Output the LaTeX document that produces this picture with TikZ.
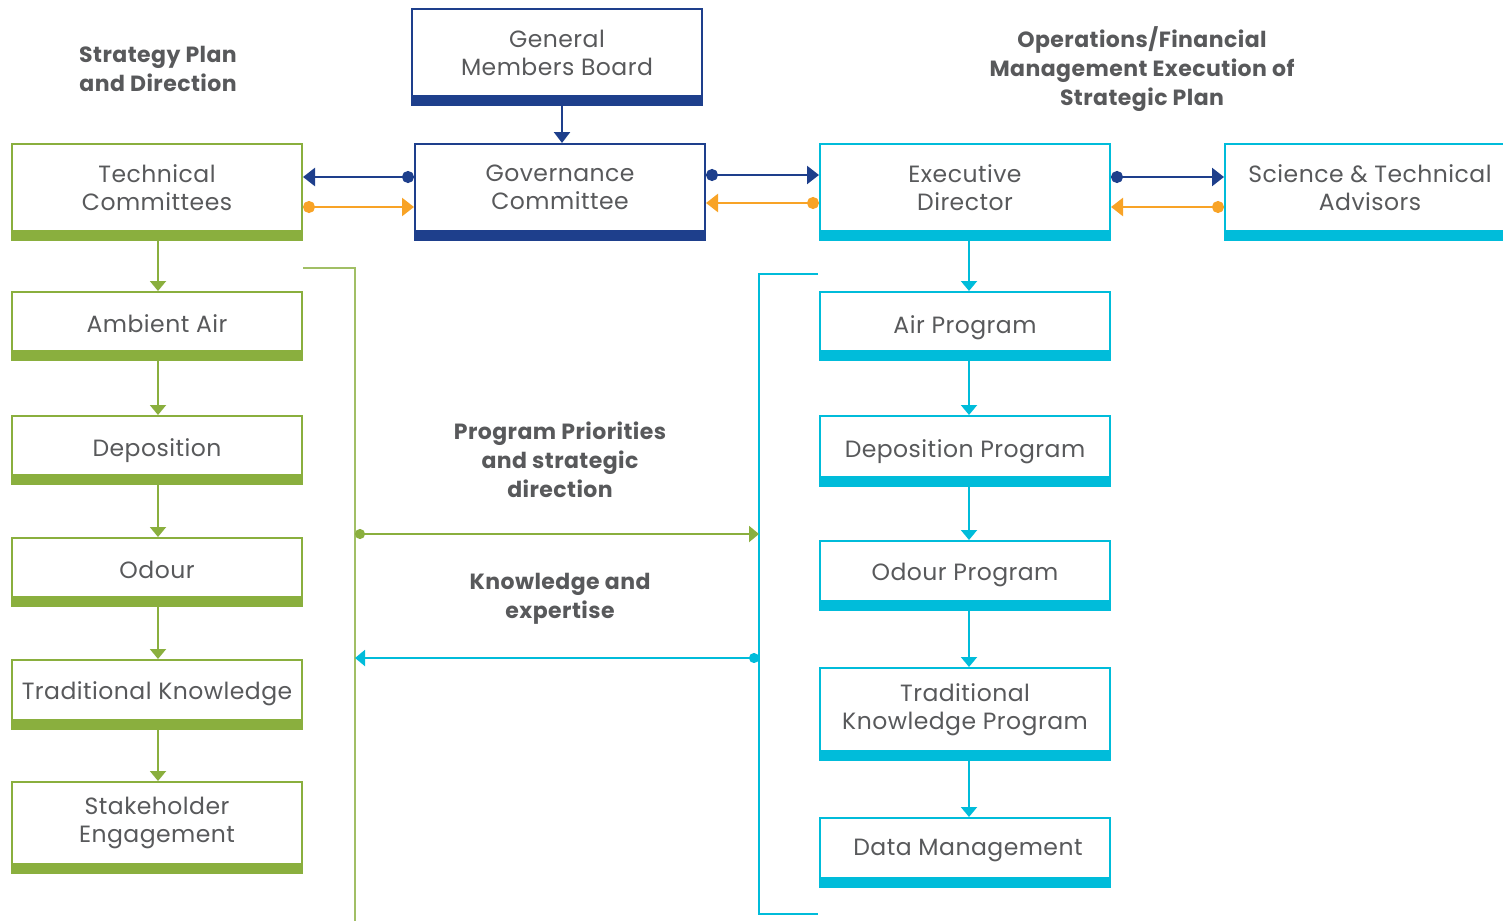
\documentclass[tikz,border=0pt]{standalone}
\usepackage{fontspec}
\setmainfont{Poppins}[LetterSpace=2]
\usetikzlibrary{arrows.meta}
\definecolor{cgreen}{HTML}{8AAF3E}
\definecolor{cnavy}{HTML}{1E3F8C}
\definecolor{ccyan}{HTML}{00BCDA}
\definecolor{corange}{HTML}{F8A326}
\definecolor{ctext}{HTML}{58595B}
\newcommand{\dn}[2]{\raisebox{-#1}[\height][\depth]{#2}}
\begin{document}
\begin{tikzpicture}[x=1pt,y=-1pt,
  box/.style={draw=#1, line width=2pt, fill=white, minimum width=290pt, inner sep=0pt,
    align=center, font=\fontsize{23.5}{28}\selectfont, text=ctext},
  head/.style={align=center, font=\fontsize{22}{29}\selectfont\bfseries, text=ctext},
  tip/.style={-{Triangle[width=16pt,length=10pt]}},
  dottip/.style={{Circle[length=12pt]}-{Triangle[width=18pt,length=12pt]}},
  garr/.style={draw=cgreen, line width=2pt, fill=cgreen, tip},
  carr/.style={draw=ccyan, line width=2pt, fill=ccyan, tip},
  narr/.style={draw=cnavy, line width=2.5pt, dottip},
  oarr/.style={draw=corange, line width=2.5pt, dottip},
  gline/.style={draw=cgreen!80, line width=1.5pt},
  cline/.style={draw=ccyan, line width=1.5pt},
  longg/.style={draw=cgreen, line width=2pt, {Circle[length=10pt]}-{Triangle[width=16pt,length=10pt]}},
  longc/.style={draw=ccyan, line width=2pt, {Circle[length=10pt]}-{Triangle[width=16pt,length=10pt]}}
]
\useasboundingbox (0,0) rectangle (1503,921);

% headings
\node[head] (h1) at (158,68.5) {Strategy Plan\\and Direction};
\node[head] (h2) at (1142,69) {Operations/Financial\\Management Execution of\\Strategic Plan};
\node[head] (h3) at (560,460) {Program Priorities\\and strategic\\direction};
\node[head] (h4) at (560,599) {Knowledge and\\expertise};

% top boxes
\node[box=cnavy, minimum height=87pt] (gmb) at (557,52.5) {General\\Members Board};
\node[box=cnavy, minimum height=87pt] (gc) at (560,187.5) {Governance\\Committee};
\node[box=cgreen, minimum height=87pt] (tc) at (157,187.5) {Technical\\Committees};
\node[box=ccyan, minimum height=87pt] (ed) at (965,187.5) {Executive\\Director};
\node[box=ccyan, minimum height=87pt] (sta) at (1370,187.5) {Science \& Technical\\Advisors};

% left column
\node[box=cgreen, minimum height=59pt] (aa) at (157,321.5) {\dn{2pt}{Ambient Air}};
\node[box=cgreen, minimum height=59pt] (dep) at (157,445.5) {\dn{5pt}{Deposition}};
\node[box=cgreen, minimum height=59pt] (od) at (157,567.5) {\dn{2pt}{Odour}};
\node[box=cgreen, minimum height=60pt] (tk) at (157,690) {\dn{4pt}{Traditional Knowledge}};
\node[box=cgreen, minimum height=82pt] (se) at (157,823) {Stakeholder\\Engagement};

% right column
\node[box=ccyan, minimum height=59pt] (ap) at (965,321.5) {\dn{6pt}{Air Program}};
\node[box=ccyan, minimum height=61pt] (dp) at (965,446.5) {\dn{5pt}{Deposition Program}};
\node[box=ccyan, minimum height=60pt] (op) at (965,571) {\dn{4pt}{Odour Program}};
\node[box=ccyan, minimum height=83pt] (tkp) at (965,709.5) {Traditional\\Knowledge Program};
\node[box=ccyan, minimum height=60pt] (dm) at (965,848) {\dn{2pt}{\hspace*{6pt}Data Management}};

% bottom bars
\foreach \n/\c in {gmb/cnavy,gc/cnavy,tc/cgreen,ed/ccyan,sta/ccyan,aa/cgreen,dep/cgreen,od/cgreen,tk/cgreen,se/cgreen,ap/ccyan,dp/ccyan,op/ccyan,tkp/ccyan,dm/ccyan}
  \fill[\c] (\n.south west) rectangle ([yshift=-9pt]\n.south east);

% vertical arrows
\draw[cnavy, line width=2.5pt, -{Triangle[width=16pt,length=11pt]}] ([xshift=5pt,yshift=-9pt]gmb.south) -- ([xshift=2pt]gc.north);
\draw[garr] ([xshift=1pt,yshift=-9pt]tc.south) -- ([xshift=1pt]aa.north);
\draw[garr] ([xshift=1pt,yshift=-9pt]aa.south) -- ([xshift=1pt]dep.north);
\draw[garr] ([xshift=1pt,yshift=-9pt]dep.south) -- ([xshift=1pt]od.north);
\draw[garr] ([xshift=1pt,yshift=-9pt]od.south) -- ([xshift=1pt]tk.north);
\draw[garr] ([xshift=1pt,yshift=-9pt]tk.south) -- ([xshift=1pt]se.north);
\draw[carr] ([xshift=4pt,yshift=-9pt]ed.south) -- ([xshift=4pt]ap.north);
\draw[carr] ([xshift=4pt,yshift=-9pt]ap.south) -- ([xshift=4pt]dp.north);
\draw[carr] ([xshift=4pt,yshift=-9pt]dp.south) -- ([xshift=4pt]op.north);
\draw[carr] ([xshift=4pt,yshift=-9pt]op.south) -- ([xshift=4pt]tkp.north);
\draw[carr] ([xshift=4pt,yshift=-9pt]tkp.south) -- ([xshift=4pt]dm.north);

% horizontal arrows top
\draw[narr] ([yshift=10.5pt]gc.west) -- ([yshift=10.5pt]tc.east);
\draw[oarr] ([yshift=-19.5pt]tc.east) -- ([yshift=-19.5pt]gc.west);
\draw[narr] ([yshift=12.5pt]gc.east) -- ([yshift=12.5pt]ed.west);
\draw[oarr] ([yshift=-15.5pt]ed.west) -- ([yshift=-15.5pt]gc.east);
\draw[narr] ([yshift=10.5pt]ed.east) -- ([yshift=10.5pt]sta.west);
\draw[oarr] ([yshift=-19.5pt]sta.west) -- ([yshift=-19.5pt]ed.east);

% brackets
\coordinate (g1) at (303,268);
\coordinate (g2) at (355,268);
\coordinate (g3) at (355,921);
\draw[gline] (g1) -- (g2) -- (g3);
\coordinate (c1) at (818,274);
\coordinate (c2) at (759,274);
\coordinate (c3) at (759,914);
\coordinate (c4) at (818,914);
\draw[cline] (c1) -- (c2) -- (c3) -- (c4);

% long arrows
\coordinate (ga) at (355,534);
\coordinate (gb) at (759,534);
\draw[longg] (ga) -- (gb);
\coordinate (ca) at (759,658);
\coordinate (cb) at (355,658);
\draw[longc] (ca) -- (cb);
\end{tikzpicture}
\end{document}
